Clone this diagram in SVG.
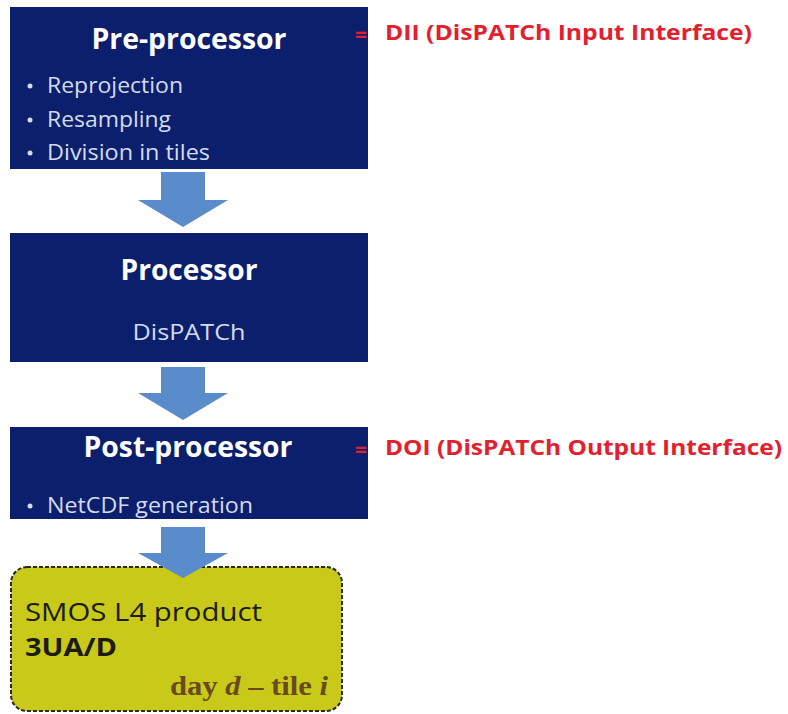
<svg xmlns="http://www.w3.org/2000/svg" width="788" height="714" viewBox="0 0 788 714">
<style>
.box{fill:#0c1f6c;}
.title{font-family:"Open Sans","Noto Sans",sans-serif;font-weight:bold;fill:#ffffff;font-size:28px;text-anchor:middle;}
.item{font-family:"Open Sans","Noto Sans",sans-serif;fill:#d4dcec;font-size:21px;}
.red{font-family:"Open Sans","Noto Sans",sans-serif;font-weight:bold;fill:#e3202e;font-size:21px;}
.arrow{fill:#5a8ccb;}
.prod{font-family:"Open Sans","Noto Sans",sans-serif;fill:#1b1b10;font-size:25px;}
</style>
<rect width="788" height="714" fill="#ffffff"/>
<g id="preprocessor">
<rect class="box" x="10" y="7" width="358" height="162"/>
<text class="title" x="189" y="49" textLength="195" lengthAdjust="spacingAndGlyphs">Pre-processor</text>
<circle cx="30" cy="86" r="2.5" fill="#d4dcec"/>
<text class="item" x="47" y="93" textLength="136" lengthAdjust="spacingAndGlyphs">Reprojection</text>
<circle cx="30" cy="120" r="2.5" fill="#d4dcec"/>
<text class="item" x="47" y="127" textLength="124" lengthAdjust="spacingAndGlyphs">Resampling</text>
<circle cx="30" cy="153" r="2.5" fill="#d4dcec"/>
<text class="item" x="47" y="160" textLength="163" lengthAdjust="spacingAndGlyphs">Division in tiles</text>
</g>
<g id="processor">
<rect class="box" x="10" y="233" width="358" height="129"/>
<text class="title" x="189" y="280" textLength="137" lengthAdjust="spacingAndGlyphs">Processor</text>
<text class="item" x="189" y="340" text-anchor="middle" textLength="113" lengthAdjust="spacingAndGlyphs">DisPATCh</text>
</g>
<g id="postprocessor">
<rect class="box" x="10" y="427" width="358" height="92"/>
<text class="title" x="188" y="457" textLength="209" lengthAdjust="spacingAndGlyphs">Post-processor</text>
<circle cx="30" cy="506" r="2.5" fill="#d4dcec"/>
<text class="item" x="47" y="513" textLength="206" lengthAdjust="spacingAndGlyphs">NetCDF generation</text>
</g>
<g id="product">
<rect x="11" y="567" width="331" height="144" rx="16" ry="16" fill="#c9c91a" stroke="#2a2a20" stroke-width="2" stroke-dasharray="4 2"/>
<text class="prod" x="25" y="621" textLength="237" lengthAdjust="spacingAndGlyphs">SMOS L4 product</text>
<text class="prod" x="25" y="656" font-weight="bold" textLength="92" lengthAdjust="spacingAndGlyphs">3UA/D</text>
<text x="328" y="695" text-anchor="end" font-family="'Liberation Serif',serif" font-weight="bold" font-size="27" fill="#6a4a1c" textLength="158" lengthAdjust="spacingAndGlyphs">day <tspan font-style="italic">d</tspan> – tile <tspan font-style="italic">i</tspan></text>
</g>
<g id="connectors">
<polygon class="arrow" points="161,172 205,172 205,200 228,200 183,227 138,200 161,200"/>
<polygon class="arrow" points="161,367 205,367 205,393 228,393 183,420 138,393 161,393"/>
<polygon class="arrow" points="161,527 205,527 205,553 228,553 183,578 138,553 161,553"/>
</g>
<g id="labels">
<text class="red" x="355" y="42" font-size="30">=</text>
<text class="red" x="385" y="40" textLength="367" lengthAdjust="spacingAndGlyphs">DII (DisPATCh Input Interface)</text>
<text class="red" x="355" y="457" font-size="30">=</text>
<text class="red" x="385" y="455" textLength="397" lengthAdjust="spacingAndGlyphs">DOI (DisPATCh Output Interface)</text>
</g>
</svg>
